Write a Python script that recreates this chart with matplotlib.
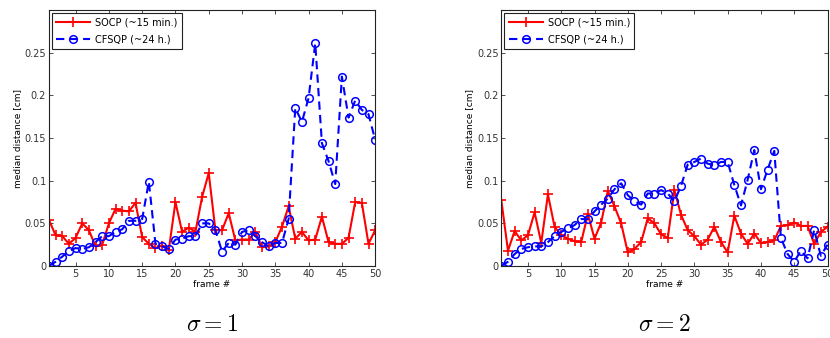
import matplotlib
matplotlib.use("Agg")
import matplotlib.pyplot as plt

plt.rcParams['mathtext.fontset'] = 'cm'

frames = list(range(1, 51))

# sigma = 1
socp_s1 = [0.054, 0.036, 0.035, 0.026, 0.033, 0.050, 0.042, 0.023, 0.025, 0.050,
           0.067, 0.065, 0.064, 0.074, 0.034, 0.026, 0.021, 0.024, 0.019, 0.075,
           0.040, 0.045, 0.040, 0.081, 0.109, 0.042, 0.042, 0.062, 0.030, 0.031,
           0.031, 0.040, 0.022, 0.023, 0.028, 0.046, 0.070, 0.032, 0.040, 0.030,
           0.031, 0.058, 0.028, 0.026, 0.026, 0.033, 0.075, 0.074, 0.026, 0.042]
cfsqp_s1 = [0.000, 0.005, 0.011, 0.0175, 0.021, 0.020, 0.022, 0.028, 0.035, 0.035,
            0.040, 0.043, 0.053, 0.053, 0.055, 0.099, 0.026, 0.023, 0.020, 0.031,
            0.032, 0.035, 0.035, 0.050, 0.050, 0.042, 0.017, 0.027, 0.025, 0.040,
            0.042, 0.035, 0.028, 0.023, 0.027, 0.027, 0.055, 0.185, 0.169, 0.197,
            0.261, 0.144, 0.123, 0.096, 0.222, 0.174, 0.194, 0.183, 0.178, 0.148]

# sigma = 2
socp_s2 = [0.077, 0.018, 0.041, 0.030, 0.036, 0.063, 0.027, 0.084, 0.046, 0.036,
           0.032, 0.029, 0.028, 0.061, 0.032, 0.051, 0.088, 0.070, 0.050, 0.016,
           0.020, 0.028, 0.056, 0.050, 0.037, 0.033, 0.089, 0.060, 0.042, 0.035,
           0.025, 0.031, 0.046, 0.028, 0.016, 0.059, 0.038, 0.026, 0.038, 0.027,
           0.028, 0.030, 0.047, 0.048, 0.051, 0.047, 0.047, 0.026, 0.040, 0.046]
cfsqp_s2 = [0.000, 0.005, 0.014, 0.020, 0.022, 0.023, 0.023, 0.028, 0.035, 0.040,
            0.044, 0.048, 0.055, 0.055, 0.064, 0.072, 0.079, 0.090, 0.097, 0.083,
            0.076, 0.072, 0.085, 0.085, 0.089, 0.085, 0.076, 0.094, 0.119, 0.122,
            0.126, 0.120, 0.118, 0.122, 0.122, 0.095, 0.071, 0.101, 0.136, 0.090,
            0.113, 0.135, 0.033, 0.014, 0.005, 0.018, 0.009, 0.042, 0.012, 0.025]

yticks = [0, 0.05, 0.1, 0.15, 0.2, 0.25]
ytick_labels = ["0", "0.05", "0.1", "0.15", "0.2", "0.25"]
xticks = [5, 10, 15, 20, 25, 30, 35, 40, 45, 50]
legend_labels = ["SOCP (~15 min.)", "CFSQP (~24 h.)"]
captions = [r"$\sigma = 1$", r"$\sigma = 2$"]

fig = plt.figure(figsize=(8.3, 3.38), dpi=100)
ax1 = fig.add_axes([0.059, 0.213, 0.393, 0.757])
ax2 = fig.add_axes([0.604, 0.213, 0.393, 0.757])

for ax, socp, cfsqp, cap in [(ax1, socp_s1, cfsqp_s1, captions[0]),
                             (ax2, socp_s2, cfsqp_s2, captions[1])]:
    ax.plot(frames, socp, color='red', marker='+', markersize=7,
            markeredgewidth=1.2, linewidth=1.5, label=legend_labels[0])
    ax.plot(frames, cfsqp, color='blue', marker='o', markersize=5.5,
            markerfacecolor='none', markeredgewidth=1.1, linestyle='--',
            linewidth=1.5, dashes=(4, 2.5), label=legend_labels[1])
    ax.set_xlim(1, 50)
    ax.set_ylim(0, 0.3)
    ax.set_xticks(xticks)
    ax.set_yticks(yticks)
    ax.set_yticklabels(ytick_labels)
    ax.tick_params(direction='in', top=True, right=True, labelsize=7,
                   length=3, width=0.6, colors='#333333', pad=2)
    for s in ax.spines.values():
        s.set_linewidth(0.8)
        s.set_color('#222222')
    ax.set_xlabel("frame #", fontsize=6.5, labelpad=1)
    ax.set_ylabel("median distance [cm]", fontsize=6.5, labelpad=2)
    leg = ax.legend(loc='upper left', fontsize=7, fancybox=False,
                    framealpha=1, edgecolor='#222222', borderaxespad=0.3,
                    handlelength=3.5, borderpad=0.45, labelspacing=0.75,
                    handletextpad=0.5)
    leg.get_frame().set_linewidth(0.8)
    pos = ax.get_position()
    fig.text(pos.x0 + pos.width / 2, 0.04, cap, fontsize=17,
             ha='center', va='center')

fig.savefig("out.png", dpi=100)
